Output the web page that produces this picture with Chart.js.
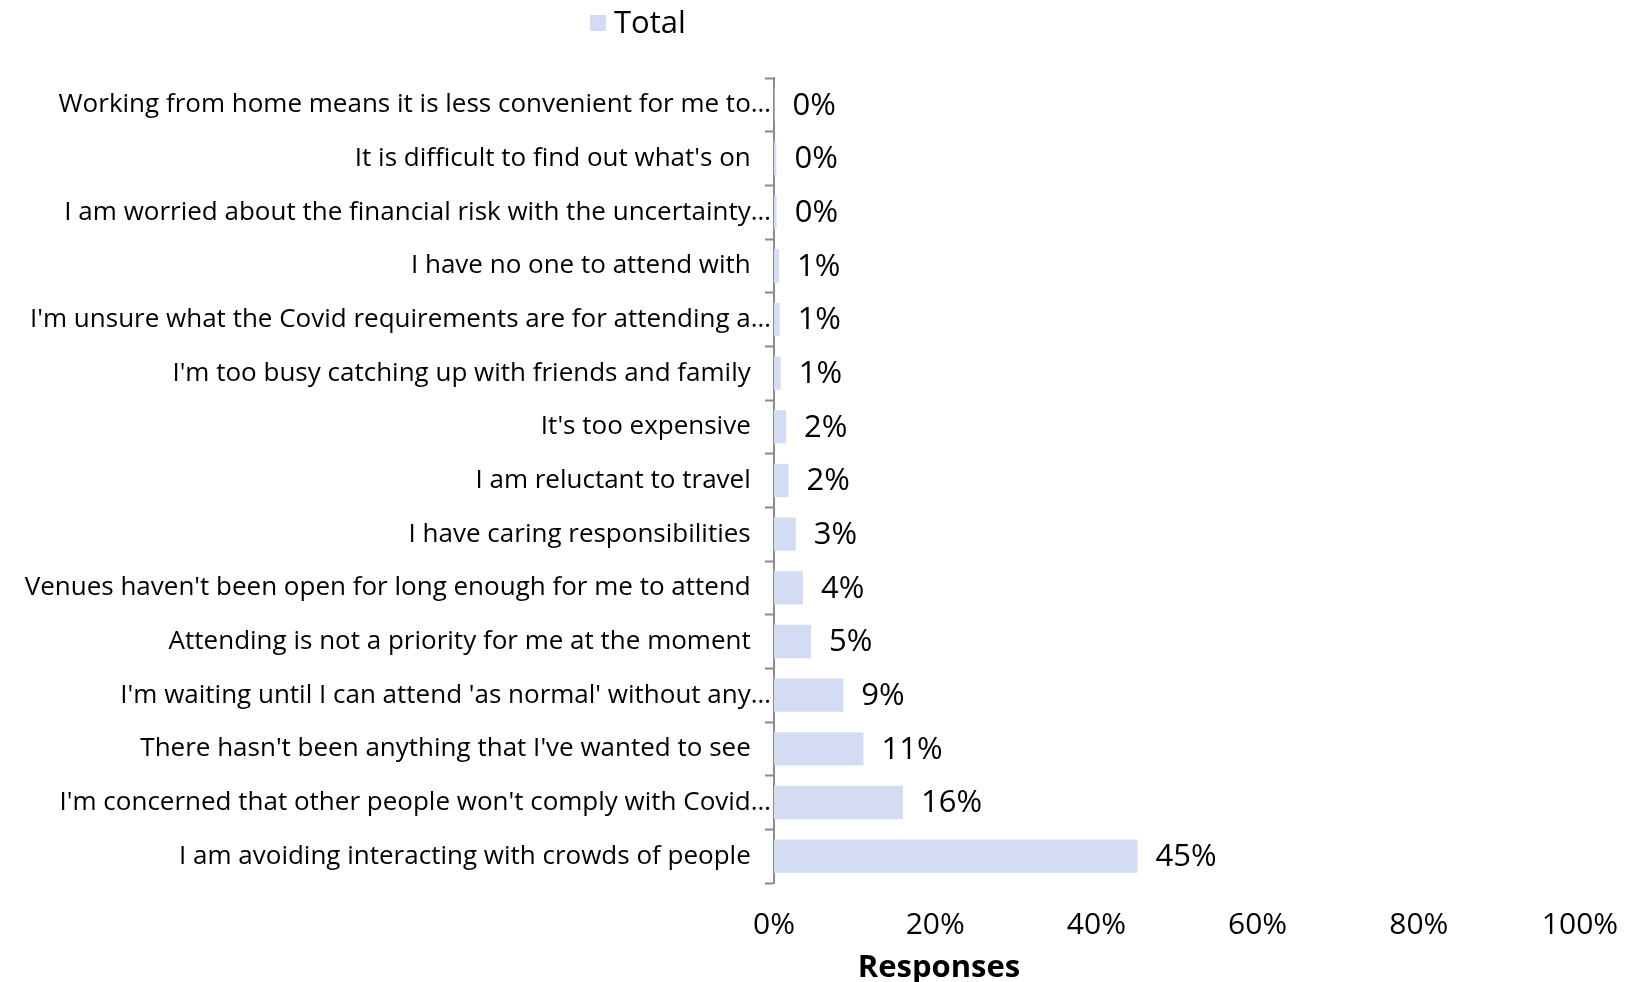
<!DOCTYPE html>
<html>
<head>
<meta charset="utf-8">
<script src="https://cdn.jsdelivr.net/npm/chart.js@4.4.0/dist/chart.umd.min.js"></script>
<style>
  body { margin: 0; background: #fff; }
  canvas { display: block; }
</style>
</head>
<body>
<canvas id="myChart" width="1625" height="982"></canvas>
<script>

// DATA (top row first)
var reasons = [
    "Working from home means it is less convenient for me to\u2026",
    "It is difficult to find out what's on",
    "I am worried about the financial risk with the uncertainty\u2026",
    "I have no one to attend with",
    "I'm unsure what the Covid requirements are for attending a\u2026",
    "I'm too busy catching up with friends and family",
    "It's too expensive",
    "I am reluctant to travel",
    "I have caring responsibilities",
    "Venues haven't been open for long enough for me to attend",
    "Attending is not a priority for me at the moment",
    "I'm waiting until I can attend 'as normal' without any\u2026",
    "There hasn't been anything that I've wanted to see",
    "I'm concerned that other people won't comply with Covid\u2026",
    "I am avoiding interacting with crowds of people"
];
var totals = [0.05, 0.3, 0.33, 0.62, 0.7, 0.83, 1.5, 1.8, 2.7, 3.6, 4.6, 8.6, 11.1, 16.0, 45.1];
var xTicks = [0, 20, 40, 60, 80, 100];
var seriesName = "Total";
var axisTitle = "Responses";

var barColor = "rgb(212, 220, 243)";
var fontName = "'Open Sans', Lato, sans-serif";


// labels, legend and axis title drawn on the canvas
var extras = {
    id: 'extras',
    afterDatasetsDraw: function(chart) {
        var ctx = chart.ctx;
        var meta = chart.getDatasetMeta(0);
        ctx.save();
        ctx.fillStyle = '#000';
        ctx.font = "31px " + fontName;
        ctx.textAlign = 'left';
        ctx.textBaseline = 'middle';
        meta.data.forEach(function(bar, i) {
            var v = chart.data.datasets[0].data[i];
            ctx.fillText(Math.round(v) + '%', bar.x + 18, bar.y + 1);
        });
        ctx.restore();
    },
    afterDraw: function(chart) {
        var ctx = chart.ctx;
        var ds = chart.data.datasets[0];
        ctx.save();
        // LEGEND
        ctx.fillStyle = ds.backgroundColor;
        ctx.fillRect(590, 15, 16, 16);
        ctx.fillStyle = '#000';
        ctx.font = "31px " + fontName;
        ctx.textAlign = 'left';
        ctx.textBaseline = 'alphabetic';
        ctx.fillText(ds.label, 614, 33);
        // X TITLE
        ctx.font = "bold 31px " + fontName;
        ctx.textAlign = 'center';
        ctx.fillText(axisTitle, 939, 977);
        ctx.restore();
    }
};


const mainChart = new Chart("myChart", {
    type: "bar",
    data: {
        labels: reasons,
        datasets: [{
            label: seriesName,
            backgroundColor: barColor,
            data: totals,
            barPercentage: 0.62,
            categoryPercentage: 1.0
        }]
    },
    options: {
        indexAxis: 'y',
        responsive: false,
        animation: false,
        layout: {
            padding: { top: 78, right: 45, left: 0, bottom: 0 }
        },
        plugins: {
            legend: { display: false },
            tooltip: { enabled: false }
        },
        scales: {
            x: {
                min: 0,
                max: 100,
                afterBuildTicks: function(scale) {
                    scale.ticks = xTicks.map(function(v) { return { value: v }; });
                },
                afterFit: function(scale) { scale.height = 99; },
                grid: { display: false, drawTicks: true, tickLength: 22 },
                border: { display: false },
                ticks: {
                    color: '#000',
                    padding: 2,
                    font: { family: fontName, size: 30 },
                    callback: function(v) { return v + '%'; }
                }
            },
            y: {
                afterFit: function(scale) { scale.width = 774; },
                grid: {
                    drawOnChartArea: false,
                    drawTicks: true,
                    tickLength: 9,
                    tickColor: '#8c8c8c',
                    tickWidth: 2,
                    offset: true
                },
                border: { display: true, color: '#8c8c8c', width: 2 },
                ticks: {
                    color: '#000',
                    autoSkip: false,
                    padding: -6,
                    font: { family: fontName, size: 26 },
                    callback: function(v, i) {
                        var s = reasons[i];
                        // full labels sit a little away from the axis, cut ones touch it
                        if (s.slice(-1) != '\u2026') s = s + '   ';
                        return s;
                    }
                }
            }
        }
    },
    plugins: [extras]
});
</script>
</body>
</html>
